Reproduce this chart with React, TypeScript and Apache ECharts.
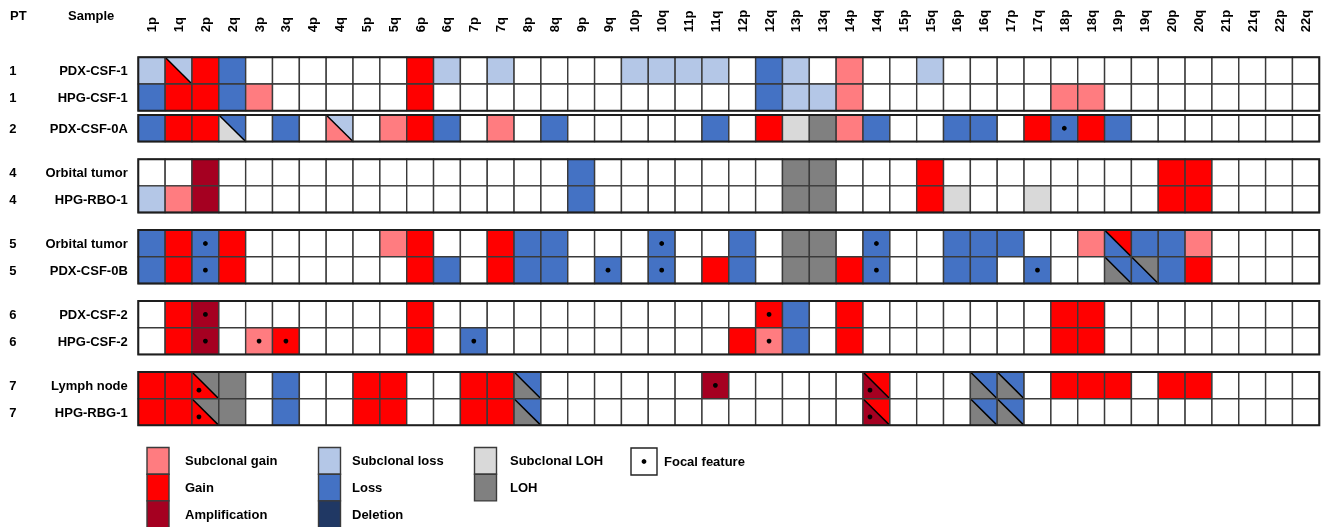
import React, { useEffect, useRef } from 'react';
import * as echarts from 'echarts';

// ---------- data ----------
const arms = ['1p','1q','2p','2q','3p','3q','4p','4q','5p','5q','6p','6q','7p','7q','8p','8q','9p','9q','10p','10q','11p','11q','12p','12q','13p','13q','14p','14q','15p','15q','16p','16q','17p','17q','18p','18q','19p','19q','20p','20q','21p','21q','22p','22q'];

const patients = ['1','1','2','4','4','5','5','6','6','7','7'];
const samples = ['PDX-CSF-1','HPG-CSF-1','PDX-CSF-0A','Orbital tumor','HPG-RBO-1','Orbital tumor','PDX-CSF-0B','PDX-CSF-2','HPG-CSF-2','Lymph node','HPG-RBG-1'];

// codes: sg subclonal gain, g gain, a amplification, sl subclonal loss, l loss, d deletion,
// sh subclonal LOH, h LOH; "upper/lower" = split cell (upper-right / lower-left); "*" = focal feature
const pdxCsf1: Record<string, string> = { '1p':'sl','1q':'sl/g','2p':'g','2q':'l','6p':'g','6q':'sl','7q':'sl','10p':'sl','10q':'sl','11p':'sl','11q':'sl','12q':'l','13p':'sl','14p':'sg','15q':'sl' };
const hpgCsf1: Record<string, string> = { '1p':'l','1q':'g','2p':'g','2q':'l','3p':'sg','6p':'g','12q':'l','13p':'sl','13q':'sl','14p':'sg','18p':'sg','18q':'sg' };
const pdxCsf0A: Record<string, string> = { '1p':'l','1q':'g','2p':'g','2q':'l/sh','3q':'l','4q':'sl/sg','5q':'sg','6p':'g','6q':'l','7q':'sg','8q':'l','11q':'l','12q':'g','13p':'sh','13q':'h','14p':'sg','14q':'l','16p':'l','16q':'l','17q':'g','18p':'l*','18q':'g','19p':'l' };
const orbital4: Record<string, string> = { '2p':'a','9p':'l','13p':'h','13q':'h','15q':'g','20p':'g','20q':'g' };
const hpgRbo1: Record<string, string> = { '1p':'sl','1q':'sg','2p':'a','9p':'l','13p':'h','13q':'h','15q':'g','16p':'sh','17q':'sh','20p':'g','20q':'g' };
const orbital5: Record<string, string> = { '1p':'l','1q':'g','2p':'l*','2q':'g','5q':'sg','6p':'g','7q':'g','8p':'l','8q':'l','10q':'l*','12p':'l','13p':'h','13q':'h','14q':'l*','16p':'l','16q':'l','17p':'l','18q':'sg','19p':'g/l','19q':'l','20p':'l','20q':'sg' };
const pdxCsf0B: Record<string, string> = { '1p':'l','1q':'g','2p':'l*','2q':'g','6p':'g','6q':'l','7q':'g','8p':'l','8q':'l','9q':'l*','10q':'l*','11q':'g','12p':'l','13p':'h','13q':'h','14p':'g','14q':'l*','16p':'l','16q':'l','17q':'l*','19p':'l/h','19q':'h/l','20p':'l','20q':'g' };
const pdxCsf2: Record<string, string> = { '1q':'g','2p':'a*','6p':'g','12q':'g*','13p':'l','14p':'g','18p':'g','18q':'g' };
const hpgCsf2: Record<string, string> = { '1q':'g','2p':'a*','3p':'sg*','3q':'g*','6p':'g','7p':'l*','12p':'g','12q':'sg*','13p':'l','14p':'g','18p':'g','18q':'g' };
const lymphNode: Record<string, string> = { '1p':'g','1q':'g','2p':'h/g*','2q':'h','3q':'l','5p':'g','5q':'g','7p':'g','7q':'g','8p':'l/h','11q':'a*','14q':'g/a*','16q':'l/h','17p':'l/h','18p':'g','18q':'g','19p':'g','20p':'g','20q':'g' };
const hpgRbg1: Record<string, string> = { '1p':'g','1q':'g','2p':'h/g*','2q':'h','3q':'l','5p':'g','5q':'g','7p':'g','7q':'g','8p':'l/h','14q':'g/a*','16q':'l/h','17p':'l/h' };

const rowCalls = [pdxCsf1, hpgCsf1, pdxCsf0A, orbital4, hpgRbo1, orbital5, pdxCsf0B, pdxCsf2, hpgCsf2, lymphNode, hpgRbg1];
const rowGroups = [[0, 1], [2, 2], [3, 4], [5, 6], [7, 8], [9, 10]];

const legendColumns = [
  [['sg', 'Subclonal gain'], ['g', 'Gain'], ['a', 'Amplification']],
  [['sl', 'Subclonal loss'], ['l', 'Loss'], ['d', 'Deletion']],
  [['sh', 'Subclonal LOH'], ['h', 'LOH']],
];

// ---------- styles / layout ----------
const COLORS: Record<string, string> = {
  sg: '#FF7C80', g: '#FF0000', a: '#A50021',
  sl: '#B4C7E7', l: '#4472C4', d: '#203864',
  sh: '#D9D9D9', h: '#808080',
};
const rowTop = [0, 1, 2.16, 3.82, 4.82, 6.48, 7.48, 9.14, 10.14, 11.8, 12.8];
const Y_MAX = 13.8;
const FONT = '"Liberation Sans", Arial, sans-serif';
const BORDER = '#3a3a3a';

type Cell = { c: number; r: number; upper: string; lower: string; split: boolean; focal: boolean };
const cells: Cell[] = [];
rowCalls.forEach((calls, r) => {
  arms.forEach((arm, c) => {
    const raw = calls[arm] || '';
    const focal = raw.endsWith('*');
    const code = focal ? raw.slice(0, -1) : raw;
    const split = code.includes('/');
    const [upper, lower] = split ? code.split('/') : [code, code];
    cells.push({ c, r, upper, lower, split, focal });
  });
});

function textStyle(text: string, x: number, y: number, align: string) {
  return {
    text, x, y,
    fill: '#000',
    font: `bold 13px ${FONT}`,
    textAlign: align, textVerticalAlign: 'middle',
    align, verticalAlign: 'middle',
  };
}

export default function App() {
  const ref = useRef<HTMLDivElement>(null);
  useEffect(() => {
    if (!ref.current) return;
    const chart = echarts.init(ref.current, undefined, { renderer: 'svg' });

    const graphics: any[] = [
      { type: 'text', style: textStyle('PT', 10, 15, 'left') },
      { type: 'text', style: textStyle('Sample', 68, 15, 'left') },
    ];
    const colX = [147, 318.5, 474.5];
    const textX = [185, 352, 510];
    const legTop = 447.5;
    const legH = 26.7;
    legendColumns.forEach((col, i) => {
      col.forEach(([key, name], j) => {
        graphics.push({
          type: 'rect',
          shape: { x: colX[i], y: legTop + j * legH, width: 22, height: legH },
          style: { fill: COLORS[key], stroke: BORDER, lineWidth: 1.4 },
        });
        graphics.push({ type: 'text', style: textStyle(name, textX[i], legTop + j * legH + legH / 2, 'left') });
      });
    });
    graphics.push({
      type: 'rect',
      shape: { x: 631, y: 448, width: 26, height: 27 },
      style: { fill: '#fff', stroke: '#222', lineWidth: 1.4 },
    });
    graphics.push({ type: 'circle', shape: { cx: 644, cy: 461.5, r: 2.4 }, style: { fill: '#000' } });
    graphics.push({ type: 'text', style: textStyle('Focal feature', 664, 461.5, 'left') });

    const option: any = {
      animation: false,
      grid: { left: 138.3, top: 57.3, width: 1181, height: Y_MAX * 26.67, containLabel: false },
      xAxis: {
        type: 'category',
        data: arms,
        position: 'top',
        axisLine: { show: false },
        axisTick: { show: false },
        splitLine: { show: false },
        axisLabel: {
          interval: 0,
          rotate: 90,
          margin: 25,
          color: '#000',
          fontWeight: 'bold',
          fontSize: 13,
          fontFamily: FONT,
        },
      },
      yAxis: { type: 'value', min: 0, max: Y_MAX, inverse: true, show: false },
      graphic: { elements: graphics },
      series: [
        {
          type: 'custom',
          clip: false,
          data: cells.map((cl) => [cl.c, rowTop[cl.r]]),
          encode: { x: 0, y: 1 },
          renderItem: (params: any, api: any) => {
            const cl = cells[params.dataIndex];
            const p0 = api.coord([cl.c, rowTop[cl.r]]);
            const p1 = api.coord([cl.c, rowTop[cl.r] + 1]);
            const w = api.size([1, 0])[0];
            const x0 = p0[0] - w / 2;
            const y0 = p0[1];
            const h = p1[1] - p0[1];
            const children: any[] = [];
            if (cl.split) {
              children.push({ type: 'polygon', shape: { points: [[x0, y0], [x0 + w, y0], [x0 + w, y0 + h]] }, style: { fill: COLORS[cl.upper] } });
              children.push({ type: 'polygon', shape: { points: [[x0, y0], [x0, y0 + h], [x0 + w, y0 + h]] }, style: { fill: COLORS[cl.lower] } });
              children.push({ type: 'line', shape: { x1: x0, y1: y0, x2: x0 + w, y2: y0 + h }, style: { stroke: '#000', lineWidth: 1.5 } });
            } else {
              children.push({ type: 'rect', shape: { x: x0, y: y0, width: w, height: h }, style: { fill: COLORS[cl.upper] || '#fff' } });
            }
            children.push({ type: 'rect', shape: { x: x0, y: y0, width: w, height: h }, style: { fill: 'none', stroke: BORDER, lineWidth: 1.4 } });
            if (cl.focal) {
              const cx = cl.split ? x0 + w * 0.26 : x0 + w / 2;
              const cy = cl.split ? y0 + h * 0.68 : y0 + h / 2;
              children.push({ type: 'circle', shape: { cx, cy, r: 2.4 }, style: { fill: '#000' } });
            }
            return { type: 'group', children };
          },
        },
        {
          type: 'custom',
          clip: false,
          data: rowGroups.map((g) => [0, rowTop[g[0]]]),
          encode: { x: 0, y: 1 },
          renderItem: (params: any, api: any) => {
            const g = rowGroups[params.dataIndex];
            const pA = api.coord([0, rowTop[g[0]]]);
            const pB = api.coord([arms.length - 1, rowTop[g[1]] + 1]);
            const w = api.size([1, 0])[0];
            return {
              type: 'rect',
              shape: { x: pA[0] - w / 2, y: pA[1], width: pB[0] - pA[0] + w, height: pB[1] - pA[1] },
              style: { fill: 'none', stroke: '#1e1e1e', lineWidth: 2 },
            };
          },
        },
        {
          type: 'custom',
          clip: false,
          data: samples.map((_, r) => [0, rowTop[r] + 0.5]),
          encode: { x: 0, y: 1 },
          renderItem: (params: any, api: any) => {
            const r = params.dataIndex;
            const p = api.coord([0, rowTop[r] + 0.5]);
            const w = api.size([1, 0])[0];
            const x0 = p[0] - w / 2;
            return {
              type: 'group',
              children: [
                { type: 'text', style: textStyle(samples[r], x0 - 10.5, p[1], 'right') },
                { type: 'text', style: textStyle(patients[r], x0 - 129, p[1], 'left') },
              ],
            };
          },
        },
      ],
    };
    chart.setOption(option);
    return () => chart.dispose();
  }, []);
  return <div ref={ref} style={{ position: 'fixed', left: 0, top: 0, width: 1323, height: 527 }} />;
}
